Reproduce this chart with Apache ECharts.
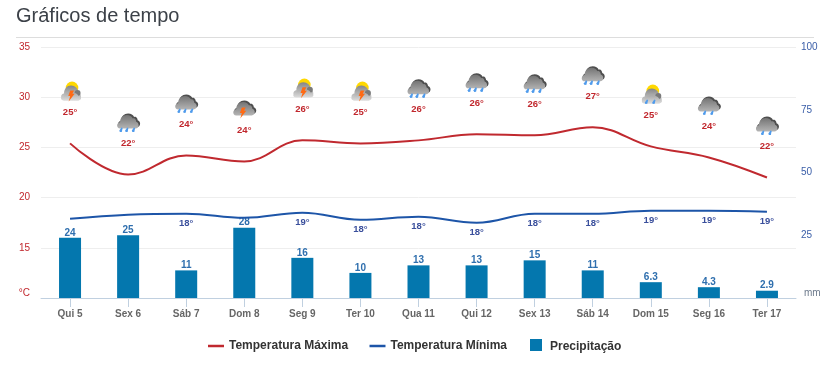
<!DOCTYPE html>
<html><head><meta charset="utf-8">
<style>html,body{margin:0;padding:0;background:#fff}#c{width:837px;height:366px}</style>
<script src="https://cdn.jsdelivr.net/npm/echarts@6/dist/echarts.min.js"></script>
</head><body><div id="c"></div>
<script>
const categories = ['Qui 5','Sex 6','Sáb 7','Dom 8','Seg 9','Ter 10','Qua 11','Qui 12','Sex 13','Sáb 14','Dom 15','Seg 16','Ter 17'];
const maxTemp = [25.4,22.3,24.2,23.6,25.7,25.4,25.7,26.3,26.2,27.0,25.1,24.0,22.0];
const minTemp = [17.9,18.3,18.4,18.0,18.5,17.8,18.1,17.5,18.4,18.4,18.7,18.7,18.6];
const precip = [24,25,11,28,16,10,13,13,15,11,6.3,4.3,2.9];
const maxLabels = ['25°','22°','24°','24°','26°','25°','26°','26°','26°','27°','25°','24°','22°'];
const minLabels = ['','','18°','','19°','18°','18°','18°','18°','18°','19°','19°','19°'];
const icons = ['sunBolt','rain3','rain3','bolt','sunBolt','sunBolt','rain3','rain3','rain3','rain3','sunRain2','rain2','rain2'];

const RED='#c0292f', BLUE='#1d55a8', BAR='#0477ae', LRED='#c1272d', LBLUE='#3a5ea8';
const FONT='"Liberation Sans", Arial, sans-serif';
const cloudPath='M3 14C1 14 0 12.5 0 11C0 9 1.5 7.5 3 7.5C3 3 6 0 10 0C13 0 15 1.5 16 3.5C17 3 18.5 3.5 19 5C19.5 6 19.5 6.5 19.5 7C21 7.5 22 9 22 10.5C22 12.5 20.5 14 19 14Z';
const domePath='M3 15C1 15 0 13 0 11.5C0 9.5 1.5 8 3 8C3 3.5 6 0 10 0C14 0 17 3 17.5 7C19 7.5 20 9.5 20 11.5C20 13.5 18.5 15 17 15Z';
function grad(a,b){return {type:'linear',x:0,y:0,x2:0,y2:1,colorStops:[{offset:0,color:a},{offset:1,color:b}]};}
function drop(x,y){return {type:'polygon',shape:{points:[[x+1.8,y],[x+3,y+.6],[x+2.2,y+4.4],[x+.2,y+4.6],[x-.3,y+3]]},style:{fill:'#4f9bec'}};}
function bolt(x,y){return {type:'polygon',shape:{points:[[x+1.2,y],[x+5,y],[x+3.4,y+3.4],[x+5.6,y+3.4],[x-.4,y+11],[x+1.2,y+5.6],[x-.8,y+5.6]]},style:{fill:'#ff6a14'}};}
function blob(d,x,y,w,h,fill){return {type:'path',shape:{pathData:d,x:x,y:y,width:w,height:h,layout:'cover'},style:{fill:fill}};}
function iconShapes(kind){
  const c=[];
  const sun=kind.indexOf('sun')===0;
  if(sun){
    c.push({type:'circle',shape:{cx:2,cy:-24.5,r:6.3},style:{fill:'#ffd800'}});
    c.push(blob(domePath,-9,-27,20,15,grad('#858585','#dcdcdc')));
    c.push({type:'circle',shape:{cx:7.5,cy:-19.5,r:3},style:{fill:'#7a7a7a'}});
    c.push(blob(domePath,-9,-20,20,8,grad('#a8a8a8','#dcdcdc')));
  }else{
    c.push(blob(cloudPath,-10,-30,22,13.5,'#4e4e4e'));
    c.push(blob(cloudPath,-11,-28.5,21.5,13.5,grad('#747474','#b4b4b4')));
  }
  if(kind==='rain3'){c.push(drop(-8.5,-16),drop(-2.7,-16),drop(4,-16));}
  if(kind==='rain2'||kind==='sunRain2'){c.push(drop(-5.7,-16),drop(1.7,-16));}
  if(kind==='sunBolt'){c.push(bolt(-1,-22));}
  if(kind==='bolt'){c.push(bolt(-3.6,-23));}
  return c;
}
const iconData=categories.map((c,i)=>[i,maxTemp[i]]);
const option={
  animation:false,
  backgroundColor:'#fff',
  textStyle:{fontFamily:FONT},
  title:{text:'Gráficos de tempo',left:11,top:1,textStyle:{fontFamily:FONT,fontSize:20,fontWeight:'normal',color:'#3c4148'}},
  graphic:[{type:'line',shape:{x1:16,y1:37.5,x2:814,y2:37.5},style:{stroke:'#dddddd',lineWidth:1},silent:true}],
  legend:[
    {data:[{name:'Temperatura Máxima',icon:'rect'}],left:208,top:340,itemWidth:16,itemHeight:2.5,itemGap:0,padding:0,textStyle:{fontFamily:FONT,fontSize:12,fontWeight:'bold',color:'#333'}},
    {data:[{name:'Temperatura Mínima',icon:'rect'}],left:369.5,top:340,itemWidth:16,itemHeight:2.5,itemGap:0,padding:0,textStyle:{fontFamily:FONT,fontSize:12,fontWeight:'bold',color:'#333'}},
    {data:[{name:'Precipitação',icon:'rect'}],left:530,top:339,itemWidth:12,itemHeight:12,itemGap:0,padding:0,formatter:'{a|{name}}',
      textStyle:{fontFamily:FONT,fontSize:12,fontWeight:'bold',color:'#333',rich:{a:{fontFamily:FONT,fontSize:12,fontWeight:'bold',color:'#333',padding:[3,0,0,3]}}}}
  ],
  grid:{left:41,right:41,top:47,bottom:68},
  xAxis:{type:'category',data:categories,axisTick:{show:true,alignWithLabel:true,length:9,lineStyle:{color:'#c0d0e0'}},axisLine:{show:true,lineStyle:{color:'#c0d0e0'}},
    axisLabel:{interval:0,fontFamily:FONT,fontSize:10,fontWeight:'bold',color:'#666',margin:11}},
  yAxis:[
    {type:'value',min:10,max:35,interval:5,splitLine:{lineStyle:{color:'#eeeeee'}},axisLine:{show:false},axisTick:{show:false},
      axisLabel:{fontFamily:FONT,fontSize:10,color:LRED,margin:11,formatter:v=>v===10?'°C':String(v),verticalAlignMinLabel:'bottom'}},
    {type:'value',min:0,max:100,interval:25,position:'right',splitLine:{show:false},axisLine:{show:false},axisTick:{show:false},
      axisLabel:{fontFamily:FONT,fontSize:10,color:LBLUE,margin:5,formatter:v=>v===0?'{mm|mm}':String(v),verticalAlignMinLabel:'bottom',
        rich:{mm:{fontFamily:FONT,fontSize:10,color:'#6d7a8c',padding:[0,0,0,3]}}}}
  ],
  series:[
    {name:'Precipitação',type:'bar',yAxisIndex:1,data:precip,barWidth:22,itemStyle:{color:BAR},
      label:{show:true,position:'top',distance:0,fontFamily:FONT,fontSize:10,fontWeight:'bold',color:'#2f6fae'}},
    {name:'Temperatura Máxima',type:'line',data:maxTemp,smooth:0.4,symbol:'none',lineStyle:{color:RED,width:2},itemStyle:{color:RED}},
    {name:'Temperatura Mínima',type:'line',data:minTemp,smooth:0.4,symbol:'none',lineStyle:{color:BLUE,width:2},itemStyle:{color:BLUE}},
    {name:'icones',type:'custom',data:iconData,z:5,silent:true,renderItem:function(p,api){
      const i=api.value(0), pt=api.coord([i,api.value(1)]);
      return {type:'group',x:pt[0],y:pt[1]-31,children:iconShapes(icons[i]).concat([
        {type:'text',style:{text:maxLabels[i],x:0,y:0,align:'center',verticalAlign:'middle',fontFamily:FONT,fontSize:9.5,fontWeight:'bold',fill:'#c1272d'}}])};
    }},
    {name:'minimas',type:'custom',data:categories.map((c,i)=>[i,minTemp[i]]),z:5,silent:true,renderItem:function(p,api){
      const i=api.value(0), pt=api.coord([i,api.value(1)]);
      return {type:'text',x:pt[0],y:pt[1]+10,style:{text:minLabels[i],x:0,y:0,align:'center',verticalAlign:'middle',fontFamily:FONT,fontSize:9.5,fontWeight:'bold',fill:'#3a4f9c'}};
    }}
  ]
};
const chart=echarts.init(document.getElementById('c'),null,{renderer:'canvas'});
chart.setOption(option);
</script></body></html>
